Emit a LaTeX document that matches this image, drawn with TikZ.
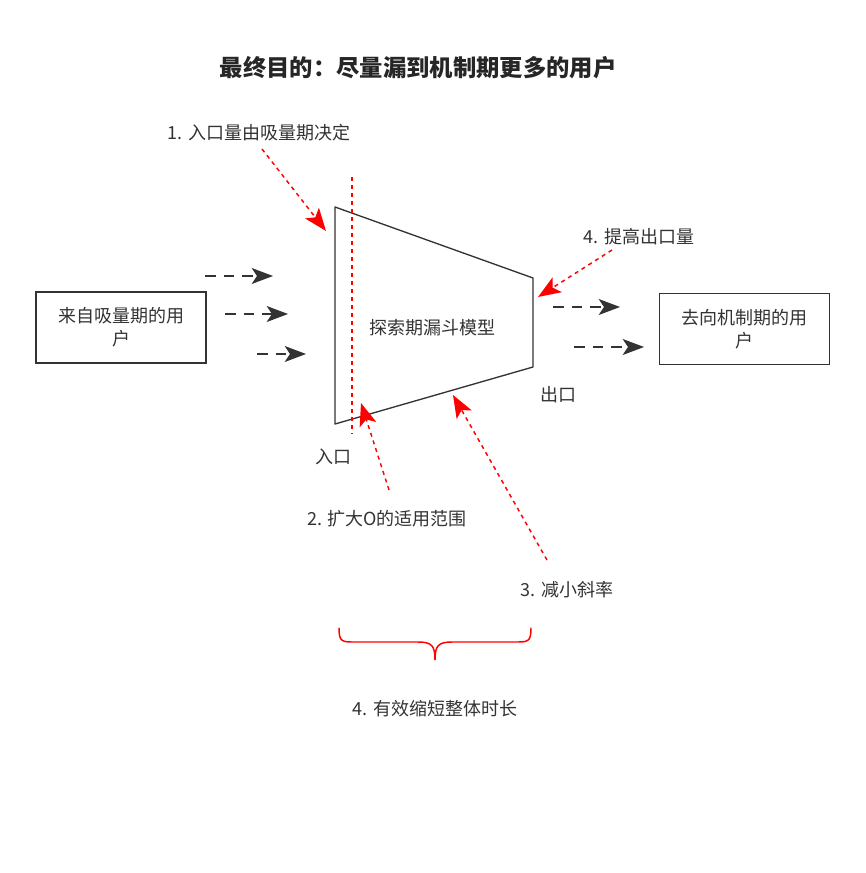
\documentclass[tikz,border=0pt]{standalone}
\usepackage{fontspec}
\setmainfont{Noto Sans CJK SC}
\usetikzlibrary{arrows.meta,decorations.pathreplacing}
\definecolor{txt}{HTML}{333333}
\definecolor{edge}{HTML}{333333}
\definecolor{rd}{HTML}{FF0000}
\tikzset{
  lbl/.style={text=txt,font=\fontsize{13.5}{17}\selectfont,inner sep=0pt},
  boxnode/.style={draw=edge,line width=1pt,minimum width=170*0.75pt,minimum height=71*0.75pt,align=center,text=txt,font=\fontsize{13.5}{17}\selectfont},
  greyarrow/.style={draw=edge,line width=1.1pt,dash pattern=on 8pt off 6pt,-{Stealth[length=16pt,width=12pt,inset=4pt]}},
  redarrow/.style={draw=rd,line width=1.1pt,dash pattern=on 3pt off 3pt,-{Stealth[length=17pt,width=13pt,inset=4pt,sep=0pt]}},
}
\begin{document}
\begin{tikzpicture}[x=0.75pt,y=-0.75pt]
\useasboundingbox (0,0) rectangle (865,873);
% title
\node[font=\fontsize{17.5}{20}\selectfont\bfseries,text=black!85] (title) at (418,68) {最终目的：尽量漏到机制期更多的用户};
% funnel
\coordinate (tl) at (335,207);
\coordinate (bl) at (335,424);
\coordinate (tr) at (533,278);
\coordinate (br) at (533,367);
\draw[edge,line width=1pt,line join=round] (tl) -- (tr) -- (br) -- (bl) -- cycle;
\node[lbl] (funnel) at (432,328) {探索期漏斗模型};
\node[lbl] (in) at (333,457) {入口};
\node[lbl] (out) at (558,395) {出口};
% boxes
\node[boxnode] (src) at (121,327.5) {来自吸量期的用\\户};
\node[boxnode] (dst) at (744.5,329) {去向机制期的用\\户};
% grey arrows
\coordinate (a1s) at (205,276); \coordinate (a1e) at (273,276);
\coordinate (a2s) at (225,314); \coordinate (a2e) at (288,314);
\coordinate (a3s) at (257,354); \coordinate (a3e) at (306,354);
\coordinate (b1s) at (553,307); \coordinate (b1e) at (620,307);
\coordinate (b2s) at (574,347); \coordinate (b2e) at (644,347);
\draw[greyarrow] (a1s) -- (a1e);
\draw[greyarrow] (a2s) -- (a2e);
\draw[greyarrow] (a3s) -- (a3e);
\draw[greyarrow] (b1s) -- (b1e);
\draw[greyarrow] (b2s) -- (b2e);
% red vertical dotted
\coordinate (vt) at (352,177);
\coordinate (vb) at (352,434);
\draw[rd,line width=1.1pt,dash pattern=on 3pt off 3pt] (vt) -- (vb);
% labels
\node[lbl] (l1) at (259,133) {1. 入口量由吸量期决定};
\node[lbl] (l4) at (639,237) {4. 提高出口量};
\node[lbl] (l2) at (387,519) {2. 扩大O的适用范围};
\node[lbl] (l3) at (567,590) {3. 减小斜率};
\node[lbl] (l5) at (435,709) {4. 有效缩短整体时长};
% red arrows
\coordinate (r1s) at (262,149); \coordinate (r1e) at (326,231);
\coordinate (r4s) at (612,250); \coordinate (r4e) at (538,297);
\coordinate (r2s) at (389,490); \coordinate (r2e) at (361,403);
\coordinate (r3s) at (547,560); \coordinate (r3e) at (453,395);
\draw[redarrow] (r1s) -- (r1e);
\draw[redarrow] (r4s) -- (r4e);
\draw[redarrow] (r2s) -- (r2e);
\draw[redarrow] (r3s) -- (r3e);
% brace
\coordinate (bra) at (339,628);
\coordinate (brb) at (531,628);
\draw[rd,line width=1.1pt,line cap=round] (bra) .. controls (339,642) and (342,642) .. (355,642) -- (418,642) .. controls (432,642) and (435,646) .. (435,660)
  .. controls (435,646) and (438,642) .. (452,642) -- (515,642) .. controls (528,642) and (531,642) .. (brb);
\end{tikzpicture}
\end{document}
